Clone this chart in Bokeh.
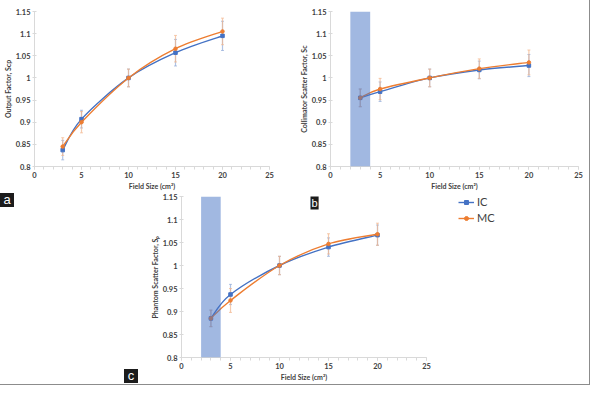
from bokeh.plotting import figure
from bokeh.layouts import column, row
from bokeh.models import (ColumnDataSource, Whisker, TeeHead, FixedTicker, CustomJSTickFormatter,
                          Label, Legend, LegendItem, BoxAnnotation, Div, Spacer)
from bokeh.embed import file_html
from bokeh.resources import INLINE

field = [3, 5, 10, 15, 20]

# (a) output factor
a_ic = [0.837, 0.907, 1.000, 1.057, 1.095]
a_mc = [0.845, 0.900, 1.000, 1.066, 1.105]
a_ic_err = [0.022, 0.020, 0.020, 0.030, 0.033]
a_mc_err = [0.020, 0.024, 0.020, 0.030, 0.030]

# (b) collimator scatter factor
b_ic = [0.955, 0.969, 1.000, 1.018, 1.028]
b_mc = [0.955, 0.975, 1.000, 1.021, 1.035]
b_ic_err = [0.020, 0.022, 0.020, 0.020, 0.025]
b_mc_err = [0.020, 0.024, 0.020, 0.022, 0.028]

# (c) phantom scatter factor
c_ic = [0.885, 0.937, 1.000, 1.040, 1.066]
c_mc = [0.885, 0.924, 1.000, 1.047, 1.068]
c_ic_err = [0.018, 0.022, 0.020, 0.020, 0.022]
c_mc_err = [0.018, 0.026, 0.020, 0.022, 0.024]

small_field = [2, 4]  # shaded band in b and c

x_ticks = [0, 5, 10, 15, 20, 25]
y_ticks = [0.8, 0.85, 0.9, 0.95, 1.0, 1.05, 1.1, 1.15]

BLUE = "#4472C4"
ORANGE = "#ED7D31"
BLUE_ERR = "#8fa9d9"
ORANGE_ERR = "#f2b58c"
FONT = "Lato"


def smooth(xs, ys):
    # Catmull-Rom style bezier segments, like Excel's smoothed line
    n = len(xs)
    d = dict(x0=[], y0=[], x1=[], y1=[], cx0=[], cy0=[], cx1=[], cy1=[])
    for i in range(n - 1):
        im, ip = max(i - 1, 0), min(i + 2, n - 1)
        d["x0"].append(xs[i]); d["y0"].append(ys[i])
        d["x1"].append(xs[i + 1]); d["y1"].append(ys[i + 1])
        d["cx0"].append(xs[i] + (xs[i + 1] - xs[im]) / 6)
        d["cy0"].append(ys[i] + (ys[i + 1] - ys[im]) / 6)
        d["cx1"].append(xs[i + 1] - (xs[ip] - xs[i]) / 6)
        d["cy1"].append(ys[i + 1] - (ys[ip] - ys[i]) / 6)
    return ColumnDataSource(d)


def make_fig(width, height, left, right, top, bottom, ylabel):
    p = figure(width=width, height=height, x_range=(0, 25), y_range=(0.8, 1.15),
               min_border_left=left, min_border_right=right, min_border_top=top,
               min_border_bottom=bottom, output_backend="svg", toolbar_location=None)
    p.xgrid.visible = False
    p.ygrid.visible = False
    p.outline_line_color = None
    p.xaxis.ticker = FixedTicker(ticks=x_ticks, minor_ticks=list(range(26)))
    p.yaxis.ticker = FixedTicker(ticks=y_ticks)
    p.yaxis.formatter = CustomJSTickFormatter(code="return Number(tick.toFixed(2)).toString();")
    p.xaxis.axis_label = "Field Size (cm²)"
    p.yaxis.axis_label = ylabel
    for ax in (p.xaxis, p.yaxis):
        ax.axis_line_color = "#d9d9d9"
        ax.major_tick_line_color = "#d9d9d9"
        ax.minor_tick_line_color = "#d9d9d9"
        ax.major_label_text_font = FONT
        ax.major_label_text_font_style = "bold"
        ax.major_label_text_font_size = "7.5px"
        ax.major_label_text_color = "#404040"
        ax.axis_label_text_font = FONT
        ax.axis_label_text_font_style = "bold"
        ax.axis_label_text_font_size = "7px"
        ax.axis_label_text_color = "#404040"
        ax.major_label_standoff = 2
        ax.axis_label_standoff = 1
    p.xaxis.major_tick_in = 0
    p.xaxis.major_tick_out = 3
    p.xaxis.minor_tick_in = 0
    p.xaxis.minor_tick_out = 3
    p.yaxis.major_tick_in = 2
    p.yaxis.major_tick_out = 2
    p.yaxis.minor_tick_out = 0
    p.yaxis.minor_tick_in = 0
    return p


def letter_div(txt):
    return Div(text=txt, width=14, height=14, margin=0,
               styles={"background-color": "#1c1c1c", "color": "white",
                       "font-family": "Liberation Sans", "font-size": "13px",
                       "line-height": "14px", "text-align": "center"})


def draw_series(p, ys, errs, color, err_color, marker):
    src = ColumnDataSource(dict(x=field, y=ys,
                                lo=[v - e for v, e in zip(ys, errs)],
                                hi=[v + e for v, e in zip(ys, errs)]))
    w = Whisker(base="x", lower="lo", upper="hi", source=src, line_color=err_color,
                line_width=1.2, line_alpha=0.7,
                upper_head=TeeHead(size=3, line_color=err_color, line_alpha=0.7),
                lower_head=TeeHead(size=3, line_color=err_color, line_alpha=0.7))
    p.add_layout(w)
    p.bezier(x0="x0", y0="y0", x1="x1", y1="y1", cx0="cx0", cy0="cy0", cx1="cx1", cy1="cy1",
             source=smooth(field, ys), line_color=color, line_width=1.4)
    p.scatter("x", "y", source=src, marker=marker, size=3.5, fill_color=color,
              line_color=color)


# top left: output factor
pa = make_fig(294, 192, 33, 25, 11, 26, "Output Factor, Scp")
draw_series(pa, a_ic, a_ic_err, BLUE, BLUE_ERR, "square")
draw_series(pa, a_mc, a_mc_err, ORANGE, ORANGE_ERR, "circle")

# top right: collimator scatter factor
pb = make_fig(295, 192, 36, 11, 10, 22, "Collimator Scatter Factor, Sc")
draw_series(pb, b_ic, b_ic_err, BLUE, BLUE_ERR, "square")
draw_series(pb, b_mc, b_mc_err, ORANGE, ORANGE_ERR, "circle")
pb.add_layout(BoxAnnotation(left=small_field[0], right=small_field[1],
                            fill_color=BLUE, fill_alpha=0.5, line_color=None))

# bottom left: strip holding the "a" and "c" letters
left_strip = column(Spacer(width=146, height=1), letter_div("a"),
                    Spacer(width=146, height=162),
                    row(Spacer(width=124, height=15), letter_div("c")),
                    width=146, height=192)

# bottom: phantom scatter factor
pc = make_fig(294, 192, 35, 14, 4, 27, "Phantom Scatter Factor, Sₚ")
draw_series(pc, c_ic, c_ic_err, BLUE, BLUE_ERR, "square")
draw_series(pc, c_mc, c_mc_err, ORANGE, ORANGE_ERR, "circle")
pc.add_layout(BoxAnnotation(left=small_field[0], right=small_field[1],
                            fill_color=BLUE, fill_alpha=0.5, line_color=None))
pc.add_layout(Label(x=129, y=148, x_units="screen", y_units="screen", text="b",
                    text_color="white", text_font="Liberation Sans", text_font_size="11px",
                    background_fill_color="#1c1c1c", text_align="left",
                    text_baseline="bottom", padding=1))

# legend sits in its own blank figure to the right of panel c
pl = figure(width=149, height=192, x_range=(0, 1), y_range=(0, 1), min_border=0,
            output_backend="svg", toolbar_location=None)
pl.axis.visible = False
pl.grid.visible = False
pl.outline_line_color = None
items = []
for name, ys, color, marker in [("IC", c_ic, BLUE, "square"), ("MC", c_mc, ORANGE, "circle")]:
    ln = pl.line(field, ys, line_color=color, line_width=1.4, visible=False)
    sc = pl.scatter(field, ys, marker=marker, size=3.5, fill_color=color, line_color=color,
                    visible=False)
    items.append(LegendItem(label=name, renderers=[ln, sc]))
legend = Legend(items=items, location=(18, 133), label_text_font=FONT,
                label_text_font_size="11px", label_text_color="#404040",
                glyph_width=16, glyph_height=10, spacing=3, padding=2, label_standoff=3,
                border_line_color=None, background_fill_alpha=0)
pl.add_layout(legend)

layout = column(row(pa, pb), row(left_strip, pc, pl), styles={"outline": "1.5px solid #8c8c8c"})

open("out.html", "w").write(file_html(layout, INLINE))
